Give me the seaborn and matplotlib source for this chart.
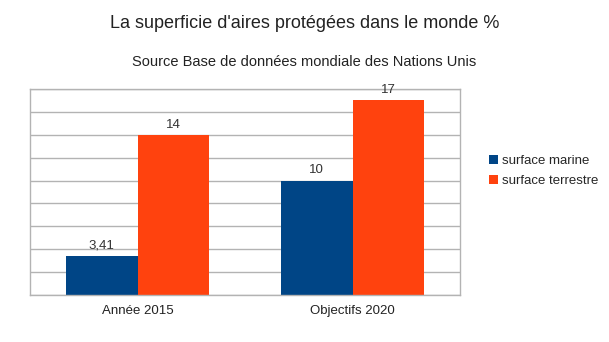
import matplotlib
matplotlib.use("Agg")
import matplotlib.pyplot as plt
import seaborn as sns
import pandas as pd
from matplotlib.patches import Patch

categories = ["Année 2015", "Objectifs 2020"]
series = ["surface marine", "surface terrestre"]
marine = [3.41, 10]
terrestre = [14, 17]
colors = ["#004586", "#ff420e"]

df = pd.DataFrame({
    "cat": categories * 2,
    "serie": [series[0]] * 2 + [series[1]] * 2,
    "val": marine + terrestre,
})

sns.set_theme(style="white")
plt.rcParams['font.family'] = ['Liberation Sans', 'DejaVu Sans']

fig = plt.figure(figsize=(6.09, 3.42), dpi=100)
ax = fig.add_axes([30/609, 1-295/342, 430/609, 206/342])

sns.barplot(data=df, x="cat", y="val", hue="serie", palette=colors,
            width=0.665, gap=0, ax=ax, legend=False, saturation=1,
            edgecolor="none", linewidth=0)

for cont, vals in zip(ax.containers, [marine, terrestre]):
    labels = [("%g" % v).replace(".", ",") for v in vals]
    ax.bar_label(cont, labels=labels, padding=3, fontsize=9.5, color="#333333")

ax.set_ylim(0, 18)
ax.set_xlim(-0.5, 1.5)
ax.set_yticks(range(0, 19, 2))
ax.set_yticklabels([])
ax.tick_params(axis="y", length=0)
ax.grid(axis="y", color="#b3b3b3", linewidth=1)
ax.set_axisbelow(True)
ax.set_xlabel("")
ax.set_ylabel("")
ax.tick_params(axis="x", which="major", length=0, labelsize=9.5, pad=7, labelcolor="#222222")
ax.set_xticks([-0.5, 0.5, 1.5], minor=True)
ax.tick_params(axis="x", which="minor", length=5, color="#b3b3b3", width=1, direction="out")
for s in ax.spines.values():
    s.set_color("#b3b3b3")
    s.set_linewidth(1)

fig.text(0.5, 1-23/342, "La superficie d'aires protégées dans le monde %",
         ha="center", va="center", fontsize=13, color="#222222")
fig.text(0.5, 1-62/342, "Source Base de données mondiale des Nations Unis",
         ha="center", va="center", fontsize=10.5, color="#222222")

handles = [Patch(facecolor=c, edgecolor="none") for c in colors]
fig.legend(handles, series, loc="center left", bbox_to_anchor=(482/609, 1-171/342),
           frameon=False, fontsize=9.5, handlelength=0.7, handleheight=0.7,
           handletextpad=0.3, labelspacing=0.55, borderpad=0)

fig.savefig("out.png", dpi=100)
